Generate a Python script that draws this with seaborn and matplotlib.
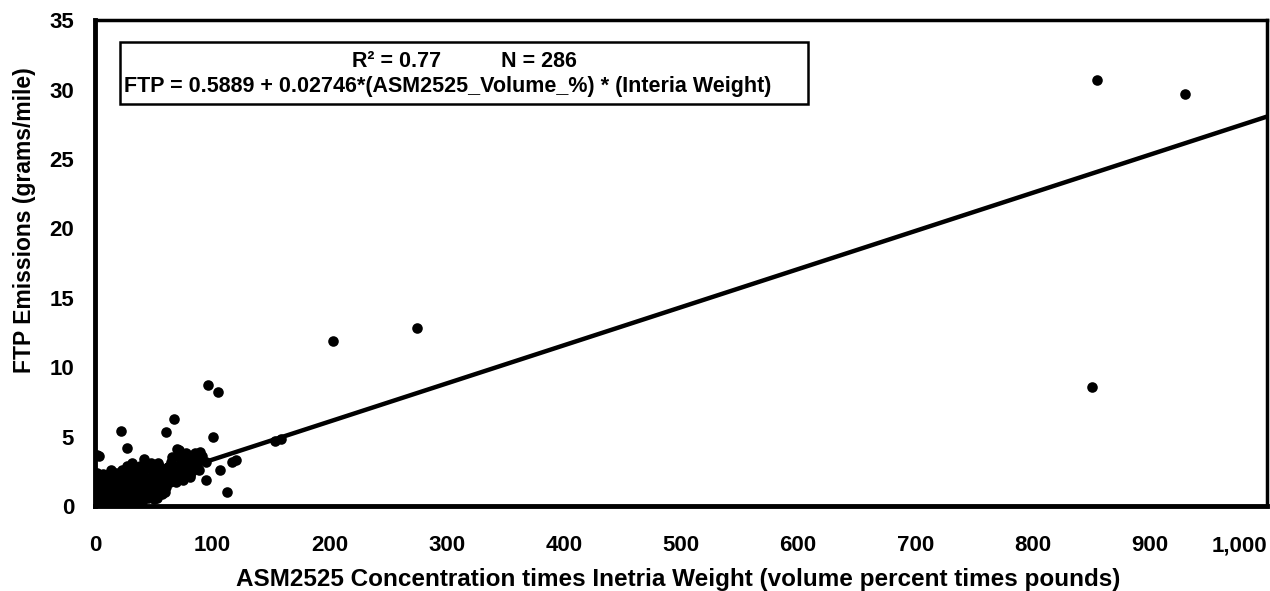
import matplotlib
matplotlib.use("Agg")
import matplotlib.pyplot as plt
import matplotlib.ticker as mticker
import seaborn as sns
import pandas as pd

# ---- data ----
outlier_x = [855, 930, 851, 275, 203, 96, 105, 159, 67, 101, 22, 120, 107, 113, 95, 2, 61, 154, 81, 85, 72, 117]
outlier_y = [30.7, 29.7, 8.6, 12.8, 11.9, 8.7, 8.2, 4.8, 6.3, 5.0, 5.4, 3.3, 2.6, 1.0, 1.9, 3.7, 5.3, 4.7, 2.1, 3.8, 4.0, 3.2]

cluster_x = [1, 2, 3, 2, 4, 5, 3, 6, 7, 8, 5, 9, 10, 11, 12, 13, 14, 15, 16, 17,
             18, 19, 20, 21, 22, 23, 24, 25, 26, 27, 28, 29, 30, 31, 32, 33, 34, 35, 36, 37,
             38, 40, 41, 42, 44, 45, 46, 48, 50, 52, 54, 55, 57, 58, 60, 62, 64, 65, 67, 70,
             72, 74, 76, 78, 80, 82, 84, 86, 88, 90, 40, 50, 35, 60, 45, 3, 6, 9, 12, 15,
             18, 21, 24, 27, 30, 33, 8, 10, 12, 14, 16, 18, 20, 22, 24, 26, 28, 30, 32, 34,
             36, 38, 39, 42, 43, 47, 49, 51, 53, 56, 59, 63, 66, 68, 71, 73, 77, 79, 83, 85,
             87, 91, 36, 2, 4, 6, 7, 1, 1, 0.5, 2, 11, 13, 17, 19, 23, 25, 29, 31, 37,
             41, 44, 46, 57, 61, 69, 75, 81, 89, 95, 27, 32, 21, 17, 7, 3, 42, 32, 48, 54,
             62, 27, 70, 66, 6, 43, 38, 34]
cluster_y = [0.1, 0.3, 0.5, 0.8, 0.2, 1.0, 1.5, 0.4, 0.7, 1.2, 2.0, 0.3, 0.9, 1.6, 0.5, 2.1, 1.1, 0.2, 1.8, 0.7,
             2.4, 1.3, 0.4, 1.9, 0.9, 2.6, 1.5, 0.6, 2.2, 1.0, 1.7, 0.3, 2.5, 1.2, 0.8, 1.9, 2.8, 1.4, 0.5, 2.2,
             1.0, 1.7, 2.6, 0.7, 1.3, 2.0, 3.0, 1.6, 0.9, 2.3, 1.8, 2.9, 1.3, 2.5, 2.0, 2.8, 1.7, 3.2, 2.4, 2.9,
             3.5, 2.6, 3.1, 3.8, 2.8, 3.4, 3.0, 3.7, 3.3, 3.9, 0.3, 0.5, 0.2, 1.0, 0.6, 0.0, 0.1, 0.6, 0.0, 0.9,
             0.5, 0.1, 0.3, 0.5, 0.2, 0.6, 1.8, 2.2, 1.4, 2.6, 0.5, 1.6, 2.0, 1.2, 2.2, 1.4, 0.8, 1.5, 2.3, 1.0,
             1.8, 2.9, 0.5, 1.5, 2.1, 1.1, 2.6, 1.4, 0.6, 2.1, 1.6, 2.4, 1.9, 2.7, 2.2, 2.0, 2.4, 3.3, 2.5, 3.5,
             2.9, 3.6, 0.9, 2.4, 1.3, 1.7, 2.3, 1.1, 0.6, 0.3, 0.1, 0.2, 0.8, 1.3, 0.8, 0.7, 1.8, 1.1, 0.4, 1.3,
             1.1, 0.9, 1.9, 0.9, 1.4, 1.7, 1.9, 2.2, 2.6, 3.2, 2.9, 2.6, 2.4, 2.1, 2.2, 3.6, 3.4, 3.1, 3.1, 3.1,
             2.8, 4.2, 4.1, 3.5, 0.3, 1.0, 2.4, 2.0]

intercept = 0.5889
slope = 0.02746
line_x = [0, 1000]

x_ticks = [0, 100, 200, 300, 400, 500, 600, 700, 800, 900, 1000]
y_ticks = [0, 5, 10, 15, 20, 25, 30, 35]

df = pd.DataFrame({"x": cluster_x + outlier_x, "y": cluster_y + outlier_y})
line_df = pd.DataFrame({"x": line_x, "y": [intercept + slope * v for v in line_x]})

sns.set_theme(style="white")
plt.rcParams["font.family"] = ["Liberation Sans", "DejaVu Sans"]
plt.rcParams["font.weight"] = "bold"
plt.rcParams["text.color"] = "black"
plt.rcParams["axes.labelcolor"] = "black"
plt.rcParams["xtick.color"] = "black"
plt.rcParams["ytick.color"] = "black"

fig = plt.figure(figsize=(12.7, 5.91), dpi=100)
ax = fig.add_axes([0.0748, 0.1438, 0.9228, 0.8222])

sns.scatterplot(data=df, x="x", y="y", ax=ax, color="black", s=58,
                edgecolor="black", linewidth=0, zorder=3, legend=False)
sns.lineplot(data=line_df, x="x", y="y", ax=ax, color="black", linewidth=3.2, zorder=2)

ax.set_xlim(0, 1000)
ax.set_ylim(0, 35)
ax.set_xticks(x_ticks)
ax.set_yticks(y_ticks)
ax.xaxis.set_major_formatter(mticker.FuncFormatter(lambda v, p: f"{int(v):,}"))
ax.tick_params(axis="both", direction="in", length=7, width=2, color="black",
               labelsize=16, labelcolor="black")
ax.tick_params(axis="y", pad=15)
ax.tick_params(axis="x", pad=21)
for lab in ax.get_xticklabels() + ax.get_yticklabels():
    lab.set_fontweight("bold")
ax.get_xticklabels()[-1].set_horizontalalignment("right")

for side, sp in ax.spines.items():
    sp.set_visible(True)
    sp.set_color("black")
    sp.set_linewidth(2.5)
ax.spines["bottom"].set_linewidth(3.5)
ax.spines["left"].set_linewidth(3.5)

ax.set_xlabel("ASM2525 Concentration times Inetria Weight (volume percent times pounds)",
              fontsize=17.5, fontweight="bold", color="black")
ax.xaxis.set_label_coords(0.498, -0.127)
ax.set_ylabel("FTP Emissions (grams/mile)", fontsize=16.5, fontweight="bold", color="black")
ax.yaxis.set_label_coords(-0.05, 0.588)

ax.text(0.315, 0.914, "R² = 0.77          N = 286", transform=ax.transAxes,
        ha="center", va="center", fontsize=15.5, fontweight="bold", color="black")
ax.text(0.025, 0.864, "FTP = 0.5889 + 0.02746*(ASM2525_Volume_%) * (Interia Weight)",
        transform=ax.transAxes, ha="left", va="center", fontsize=15.5, fontweight="bold", color="black")
box = plt.Rectangle((0.021, 0.827), 0.587, 0.128, transform=ax.transAxes,
                    fill=False, edgecolor="black", linewidth=1.8, zorder=4)
ax.add_patch(box)

fig.savefig("out.png", dpi=100, facecolor="white")
